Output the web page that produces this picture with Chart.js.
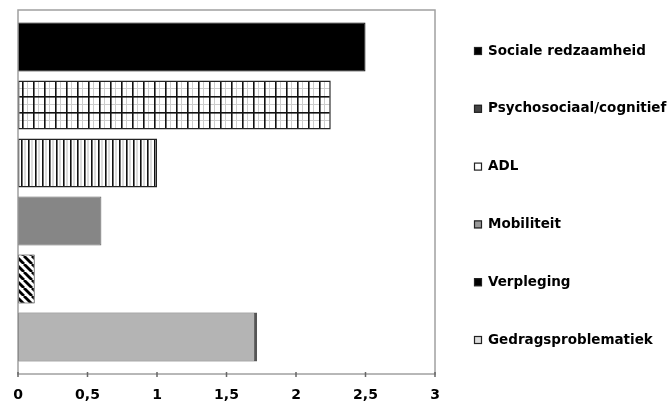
<!DOCTYPE html>
<html>
<head>
<meta charset="utf-8">
<script src="https://cdn.jsdelivr.net/npm/chart.js@4/dist/chart.umd.min.js"></script>
<style>
  html, body { margin: 0; padding: 0; background: #fff; }
  #wrap { width: 672px; height: 403px; }
</style>
</head>
<body>
<div id="wrap"><canvas id="chart"></canvas></div>
<script>
// categorieën (van boven naar onder) en scores
const categorieen = ['Sociale redzaamheid', 'Psychosociaal/cognitief', 'ADL', 'Mobiliteit', 'Verpleging', 'Gedragsproblematiek'];
const scores = [2.5, 2.25, 1.0, 0.6, 0.12, 1.72];
const asTicks = [0, 0.5, 1, 1.5, 2, 2.5, 3];

// patronen maken zoals in de oorspronkelijke Excel-grafiek
function maakPatroon(w, h, teken) {
    const c = document.createElement('canvas');
    c.width = w;
    c.height = h;
    const g = c.getContext('2d');
    g.fillStyle = '#fff';
    g.fillRect(0, 0, w, h);
    teken(g, w, h);
    return g.createPattern(c, 'repeat');
}

const rooster = maakPatroon(11, 16, (g, w, h) => {
    g.fillStyle = '#ccc';
    g.fillRect(5, 0, 1, h);
    g.fillRect(0, 8, w, 1);
    g.fillStyle = '#111';
    g.fillRect(0, 0, 1.6, h);
    g.fillRect(0, 0, w, 1.6);
});

const strepen = maakPatroon(7, 4, (g, w, h) => {
    g.fillStyle = '#bbb';
    g.fillRect(3.5, 0, 1, h);
    g.fillStyle = '#111';
    g.fillRect(0, 0, 1.6, h);
});

const arcering = maakPatroon(8, 8, (g, w, h) => {
    g.strokeStyle = '#000';
    g.lineWidth = 2.8;
    for (let k = -1; k <= 1; k++) {
        g.beginPath();
        g.moveTo(k * 8, 0);
        g.lineTo(k * 8 + 8, 8);
        g.stroke();
    }
});

const vulling = ['#000', rooster, strepen, '#868686', arcering, '#b4b4b4'];
const legendaVulling = ['#000', '#444', '#fff', '#999', '#000', '#ddd'];
const randKleur = ['#000', '#222', '#222', '#666', '#222', '#555'];
const randDikte = [1, 1.5, 1.5, 1, 1, { top: 1, bottom: 1, left: 1, right: 3 }];

// kader rond het plotgebied + streepjes op de x-as
const kaderPlugin = {
    id: 'kader',
    afterDatasetsDraw(chart) {
        const { ctx, chartArea: a, scales } = chart;
        ctx.save();
        ctx.strokeStyle = '#a0a0a0';
        ctx.lineWidth = 1.5;
        ctx.strokeRect(a.left, a.top - 8, a.right - a.left, a.bottom - a.top + 16);
        ctx.strokeStyle = '#666';
        ctx.lineWidth = 1.5;
        ctx.beginPath();
        asTicks.forEach(v => {
            const x = scales.x.getPixelForValue(v);
            ctx.moveTo(x, a.bottom + 6);
            ctx.lineTo(x, a.bottom + 11);
        });
        ctx.stroke();
        ctx.restore();
    }
};

// legenda rechts, zelf getekend
const legendaPlugin = {
    id: 'legenda',
    afterDraw(chart) {
        const { ctx } = chart;
        ctx.save();
        ctx.font = 'bold 13.5px "DejaVu Sans"';
        ctx.textBaseline = 'middle';
        categorieen.forEach((naam, i) => {
            const y = 51 + i * 57.8;
            ctx.fillStyle = legendaVulling[i];
            ctx.fillRect(474, y - 4, 8, 8);
            ctx.strokeStyle = '#222';
            ctx.lineWidth = 1.2;
            ctx.strokeRect(474.5, y - 3.5, 7, 7);
            ctx.fillStyle = '#000';
            ctx.fillText(naam, 488, y);
        });
        ctx.restore();
    }
};

const ctx = document.getElementById('chart').getContext('2d');
new Chart(ctx, {
    type: 'bar',
    data: {
        labels: categorieen,
        datasets: [{
            data: scores,
            backgroundColor: vulling,
            borderColor: randKleur,
            borderWidth: randDikte,
            borderSkipped: false,
            barPercentage: 0.845,
            categoryPercentage: 1
        }]
    },
    options: {
        indexAxis: 'y',
        responsive: true,
        maintainAspectRatio: false,
        animation: false,
        layout: {
            padding: { left: 18, right: 237, top: 18, bottom: 0 }
        },
        scales: {
            x: {
                min: 0,
                max: 3,
                afterBuildTicks: axis => {
                    axis.ticks = asTicks.map(v => ({ value: v }));
                },
                afterFit: axis => {
                    axis.height = 37;
                    axis.paddingLeft = 0;
                    axis.paddingRight = 0;
                },
                grid: { display: false, drawTicks: false },
                border: { display: false },
                ticks: {
                    padding: 21,
                    color: '#000',
                    font: { family: 'DejaVu Sans', size: 14, weight: 'bold' },
                    callback: v => String(v).replace('.', ',')
                }
            },
            y: {
                display: false
            }
        },
        plugins: {
            legend: { display: false },
            tooltip: { enabled: false }
        }
    },
    plugins: [kaderPlugin, legendaPlugin]
});
</script>
</body>
</html>
